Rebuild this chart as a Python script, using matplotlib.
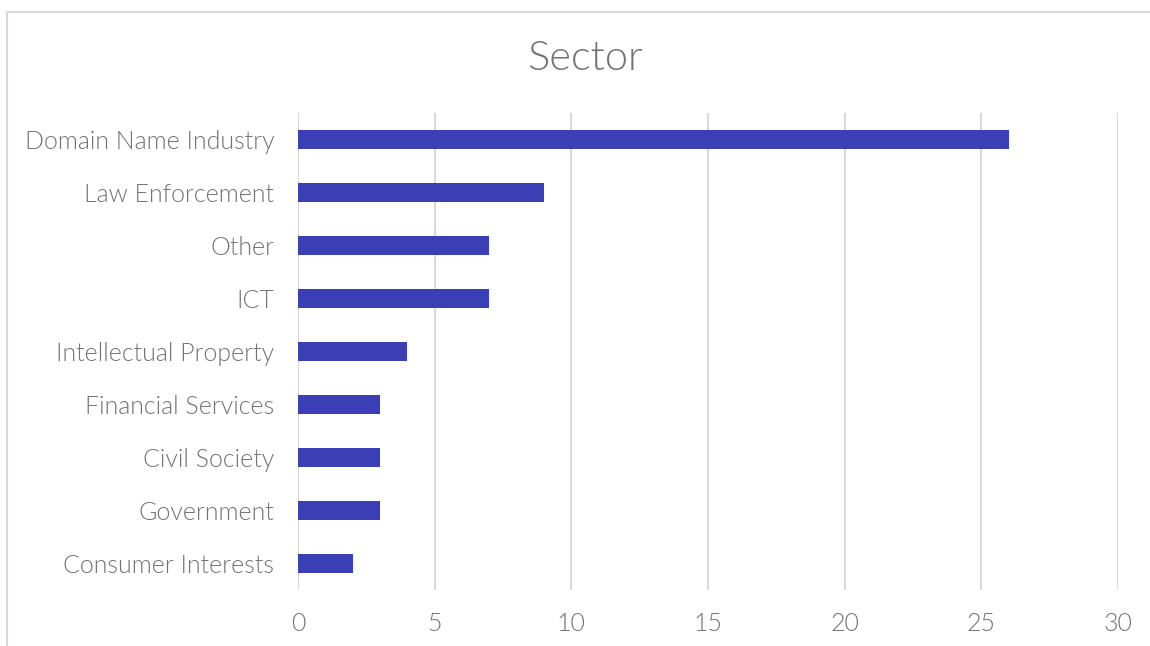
import matplotlib
matplotlib.use("Agg")
import matplotlib.pyplot as plt
from matplotlib.patches import Rectangle

sectors = ["Domain Name Industry", "Law Enforcement", "Other", "ICT",
           "Intellectual Property", "Financial Services", "Civil Society",
           "Government", "Consumer Interests"]
counts = [26, 9, 7, 7, 4, 3, 3, 3, 2]
xticks = [0, 5, 10, 15, 20, 25, 30]

plt.rcParams['font.family'] = ['Lato', 'DejaVu Sans']
grey = "#737373"

fig = plt.figure(figsize=(11.5, 6.46), dpi=100)
ax = fig.add_axes([298 / 1150, 1 - 590 / 646, 820 / 1150, 477 / 646])

ypos = list(range(len(sectors)))
ax.barh(ypos, counts, height=0.34, color="#3b3fb6", zorder=3)
ax.set_ylim(len(sectors) - 0.5, -0.5)
ax.set_xlim(0, 30)
ax.set_xticks(xticks)
ax.set_yticks(ypos)
ax.set_yticklabels(sectors)
ax.tick_params(axis="both", length=0, labelsize=18, colors=grey)
ax.tick_params(axis="y", pad=17)
ax.tick_params(axis="x", pad=16)
for lab in ax.get_xticklabels() + ax.get_yticklabels():
    lab.set_fontweight(300)
ax.grid(axis="x", color="#d9d9d9", linewidth=1.5, zorder=0)
for s in ax.spines.values():
    s.set_visible(False)
ax.axvline(0, color="#d9d9d9", linewidth=1.5, zorder=1)

fig.text(585 / 1150, 1 - 58 / 646, "Sector", ha="center", va="center",
         fontsize=30, color=grey, fontweight=300)

fig.patches.append(Rectangle((7 / 1150, -0.1), 1.1, 1.1 - 12 / 646,
                             transform=fig.transFigure, fill=False,
                             edgecolor="#d9d9d9", linewidth=1.5))

fig.savefig("out.png", dpi=100)
